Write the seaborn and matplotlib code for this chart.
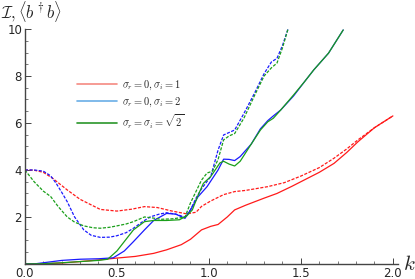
import matplotlib
matplotlib.use('Agg')
import matplotlib.pyplot as plt
import seaborn as sns
import pandas as pd
from matplotlib.lines import Line2D
from matplotlib.ticker import MultipleLocator, FixedLocator

# Data
red_solid_k = [0, 0.1, 0.2, 0.3, 0.4, 0.5, 0.6, 0.7, 0.77, 0.85, 0.9, 0.96, 1.01, 1.05, 1.1, 1.14,
               1.2, 1.3, 1.37, 1.45, 1.5, 1.6, 1.68, 1.75, 1.81, 1.9, 2.0]
red_solid_y = [0, 0.01, 0.04, 0.1, 0.17, 0.25, 0.32, 0.45, 0.6, 0.82, 1.05, 1.45, 1.6, 1.68, 2.0, 2.3,
               2.5, 2.8, 3.0, 3.3, 3.5, 3.9, 4.28, 4.75, 5.2, 5.8, 6.3]

red_dash_k = [0, 0.05, 0.1, 0.15, 0.23, 0.3, 0.41, 0.5, 0.58, 0.65, 0.72, 0.8, 0.88, 0.93, 0.96, 1.01,
              1.08, 1.14, 1.2, 1.32, 1.41, 1.5, 1.6, 1.68, 1.75, 1.81, 1.9, 2.0]
red_dash_y = [4.0, 3.99, 3.9, 3.65, 3.15, 2.75, 2.32, 2.25, 2.33, 2.44, 2.4, 2.25, 2.13, 2.2, 2.45, 2.68,
              2.95, 3.08, 3.13, 3.29, 3.46, 3.74, 4.1, 4.5, 4.9, 5.28, 5.8, 6.3]

blue_solid_k = [0, 0.05, 0.1, 0.2, 0.3, 0.4, 0.48, 0.54, 0.59, 0.65, 0.7, 0.77, 0.82, 0.87, 0.9, 0.94,
                0.99, 1.05, 1.08, 1.11, 1.14, 1.17, 1.23, 1.28, 1.32, 1.35, 1.39, 1.46, 1.52, 1.57, 1.65, 1.73]
blue_solid_y = [0, 0.0, 0.05, 0.15, 0.2, 0.22, 0.26, 0.55, 0.95, 1.45, 1.85, 2.15, 2.12, 1.94, 2.3, 2.85,
                3.29, 4.0, 4.46, 4.45, 4.4, 4.57, 5.1, 5.75, 6.1, 6.3, 6.55, 7.15, 7.76, 8.26, 8.97, 9.96]

blue_dash_k = [0, 0.05, 0.1, 0.14, 0.17, 0.2, 0.23, 0.27, 0.32, 0.36, 0.41, 0.46, 0.5, 0.55, 0.59, 0.64,
               0.68, 0.73, 0.77, 0.82, 0.87, 0.9, 0.93, 0.96, 1.01, 1.05, 1.08, 1.12, 1.14, 1.19, 1.25,
               1.3, 1.34, 1.37, 1.4, 1.43]
blue_dash_y = [4.0, 4.0, 3.95, 3.75, 3.43, 3.05, 2.65, 2.0, 1.45, 1.22, 1.13, 1.14, 1.2, 1.33, 1.52, 1.8,
               2.0, 2.12, 2.18, 2.12, 1.99, 2.3, 2.8, 3.2, 3.72, 4.85, 5.49, 5.63, 5.7, 6.4, 7.3,
               8.1, 8.6, 8.75, 9.3, 10.0]

green_solid_k = [0, 0.1, 0.2, 0.3, 0.4, 0.45, 0.5, 0.55, 0.59, 0.65, 0.7, 0.77, 0.84, 0.88, 0.91, 0.94,
                 0.97, 1.01, 1.06, 1.08, 1.11, 1.14, 1.17, 1.23, 1.28, 1.32, 1.35, 1.39, 1.46, 1.52,
                 1.57, 1.65, 1.73]
green_solid_y = [0, 0.01, 0.05, 0.1, 0.15, 0.2, 0.55, 1.05, 1.45, 1.8, 1.85, 1.85, 1.88, 2.05, 2.3, 2.9,
                 3.43, 3.72, 4.3, 4.37, 4.25, 4.17, 4.37, 5.1, 5.7, 6.05, 6.2, 6.55, 7.19, 7.76,
                 8.26, 8.97, 9.96]

green_dash_k = [0, 0.05, 0.1, 0.14, 0.18, 0.23, 0.27, 0.32, 0.37, 0.41, 0.46, 0.5, 0.55, 0.59, 0.65,
                0.7, 0.74, 0.8, 0.87, 0.9, 0.96, 0.99, 1.02, 1.05, 1.08, 1.11, 1.14, 1.19, 1.25, 1.3,
                1.34, 1.37, 1.4, 1.43]
green_dash_y = [4.0, 3.5, 3.1, 2.87, 2.45, 2.0, 1.78, 1.62, 1.54, 1.52, 1.56, 1.62, 1.7, 1.8, 2.0,
                1.95, 1.9, 1.92, 1.99, 2.6, 3.57, 3.87, 3.95, 4.45, 5.28, 5.45, 5.55, 6.2, 7.2, 8.0,
                8.35, 8.55, 9.2, 10.0]

legend_labels = [r'$\sigma_r=0, \sigma_i=1$', r'$\sigma_r=0, \sigma_i=2$', r'$\sigma_r=\sigma_i=\sqrt{2}$']

sns.set_style('ticks')
plt.rcParams['mathtext.fontset'] = 'cm'
plt.rcParams['font.family'] = ['DejaVu Sans']

fig = plt.figure(figsize=(4.15, 2.79), dpi=100)
ax = fig.add_axes([0.06, 0.054, 0.9, 0.842])

series = [
    (red_solid_k, red_solid_y, '#ff1a1a', '-'),
    (red_dash_k, red_dash_y, '#ff1a1a', (0, (2.5, 1.2))),
    (blue_solid_k, blue_solid_y, '#1a1aff', '-'),
    (blue_dash_k, blue_dash_y, '#1a1aff', (0, (2.5, 1.2))),
    (green_solid_k, green_solid_y, '#1a9f1a', '-'),
    (green_dash_k, green_dash_y, '#1a9f1a', (0, (2.5, 1.2))),
]
for k, y, c, ls in series:
    d = pd.DataFrame({'k': k, 'y': y})
    sns.lineplot(data=d, x='k', y='y', ax=ax, color=c, lw=0.9, linestyle=ls, sort=False)

ax.set_xlim(0, 2.03)
ax.set_ylim(0, 10)
ax.set_xlabel('')
ax.set_ylabel('')
ax.xaxis.set_major_locator(FixedLocator([0, 0.5, 1.0, 1.5, 2.0]))
ax.set_xticklabels(['0.0', '0.5', '1.0', '1.5', '2.0'])
ax.xaxis.set_minor_locator(MultipleLocator(0.1))
ax.yaxis.set_major_locator(FixedLocator([2, 4, 6, 8, 10]))
ax.yaxis.set_minor_locator(MultipleLocator(0.5))
ax.tick_params(which='major', direction='in', length=4, width=0.7, labelsize=8.5, pad=2, color='#444444')
ax.tick_params(which='minor', direction='in', length=2, width=0.5, color='#444444')
for s in ['top', 'right']:
    ax.spines[s].set_visible(False)
for s in ['left', 'bottom']:
    ax.spines[s].set_color('#444444')
    ax.spines[s].set_linewidth(1.0)

ax.text(1.012, 0.0, r'$k$', transform=ax.transAxes, fontsize=15, va='center', ha='left')
fig.text(0.003, 1 - 24 / 279, r'$\mathcal{I}, \langle b^\dagger b\rangle$', fontsize=12,
         va='bottom', ha='left')

handles = [Line2D([], [], color='#f58a82', lw=1.2),
           Line2D([], [], color='#6aaee6', lw=1.2),
           Line2D([], [], color='#2a962a', lw=1.2)]
ax.legend(handles, legend_labels, loc='upper left', bbox_to_anchor=(0.115, 0.83), frameon=False,
          fontsize=7.5, handlelength=3.8, handletextpad=0.5, labelspacing=0.35)

fig.savefig('out.png', dpi=100)
